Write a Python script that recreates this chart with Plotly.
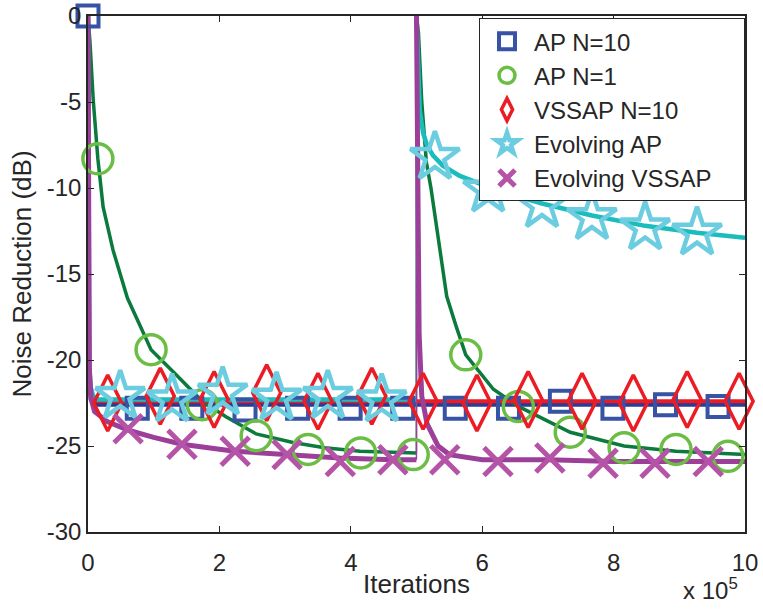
import plotly.graph_objects as go

# ---------------- data (x in units of 1e5 iterations, y in dB) ----------------
ap10_line_x = [0, 0.004, 0.01, 0.02, 0.04, 0.08, 0.15, 1, 2, 3, 4, 5, 6, 7, 8, 9, 10]
ap10_line_y = [0, -14, -19.5, -21.5, -22.3, -22.5, -22.6, -22.6, -22.6, -22.6, -22.6,
               -22.6, -22.6, -22.6, -22.6, -22.6, -22.6]

# AP N=1: before / after the change at 5e5
ap1_a_x = [0, 0.03, 0.08, 0.15, 0.23, 0.38, 0.6, 0.96, 1.3, 1.74, 2.1, 2.56, 3.12, 3.6,
           4.14, 4.999]
ap1_a_y = [0, -1.5, -4.9, -8.3, -11.1, -13.6, -16.4, -19.4, -20.7, -22.4, -23.3, -24.3,
           -24.8, -25.1, -25.3, -25.4]
ap1_b_x = [5.0, 5.03, 5.08, 5.15, 5.22, 5.35, 5.46, 5.6, 5.75, 6.17, 6.55, 7.34, 8.16,
           8.95, 10]
ap1_b_y = [0, -1.0, -5.0, -8.5, -10.0, -13.5, -16.3, -18.0, -19.7, -21.7, -22.7, -24.2,
           -25.0, -25.3, -25.5]

vss_line_x = [0, 0.004, 0.01, 0.02, 0.04, 0.08, 0.15, 1, 2, 3, 4, 5, 6, 7, 8, 9, 10]
vss_line_y = [0, -15, -19.5, -21.3, -22.0, -22.3, -22.4, -22.4, -22.4, -22.4, -22.4,
              -22.4, -22.4, -22.4, -22.4, -22.4, -22.4]

eap_a_x = [0, 0.004, 0.01, 0.02, 0.04, 0.08, 0.15, 1, 2, 3, 4, 4.999]
eap_a_y = [0, -13, -18, -20.5, -21.6, -22.1, -22.3, -22.3, -22.3, -22.3, -22.3, -22.3]
eap_b_x = [5.0, 5.02, 5.05, 5.1, 5.16, 5.25, 5.4, 5.66, 6.0, 6.27, 6.91, 7.67, 8.48,
           9.27, 10]
eap_b_y = [0, -2.0, -5.5, -6.8, -7.5, -8.1, -8.7, -9.3, -9.8, -10.2, -10.9, -11.6,
           -12.2, -12.6, -12.9]

evss_a_x = [0, 0.005, 0.02, 0.05, 0.1, 0.3, 0.63, 1.0, 1.43, 2.23, 3.03, 3.83, 4.63,
            4.999]
evss_a_y = [0, -15, -20.5, -22.3, -23.0, -23.6, -24.1, -24.5, -24.9, -25.3, -25.5,
            -25.7, -25.8, -25.8]
evss_b_x = [5.0, 5.02, 5.04, 5.08, 5.16, 5.33, 5.5, 6.0, 7.0, 8.0, 9.0, 10]
evss_b_y = [0, -15, -18.5, -22.1, -23.7, -25.0, -25.5, -25.8, -25.8, -25.9, -25.9, -25.9]

ap10_mk_x = [0, 0.75, 1.58, 2.39, 3.19, 3.99, 4.79, 5.59, 6.40, 7.19, 7.99, 8.79, 9.59]
ap10_mk_y = [0, -22.8, -22.8, -22.9, -22.8, -22.8, -22.8, -22.8, -22.8, -22.4, -22.8,
             -22.6, -22.7]

ap1_mk_x = [0.15, 0.96, 1.74, 2.56, 3.35, 4.15, 4.95, 5.75, 6.55, 7.34, 8.16, 8.95, 9.74]
ap1_mk_y = [-8.3, -19.4, -22.6, -24.4, -25.2, -25.4, -25.5, -19.7, -22.7, -24.2, -25.1,
            -25.2, -25.6]

vss_mk_x = [0.30, 1.10, 1.92, 2.72, 3.50, 4.32, 5.10, 5.92, 6.70, 7.52, 8.30, 9.12, 9.91]
vss_mk_y = [-22.5, -22.1, -22.3, -21.9, -22.4, -22.1, -22.4, -22.5, -22.3, -22.4, -22.5,
            -22.3, -22.4]

eap_mk_x = [0.49, 1.28, 2.05, 2.87, 3.65, 4.47, 5.28, 6.09, 6.91, 7.67, 8.48, 9.27]
eap_mk_y = [-22.1, -22.3, -21.9, -22.2, -22.1, -22.3, -8.2, -10.1, -11.0, -11.7, -12.3,
            -12.6]

evss_mk_x = [0.61, 1.43, 2.24, 3.03, 3.84, 4.64, 5.43, 6.24, 7.03, 7.84, 8.63, 9.44]
evss_mk_y = [-24.0, -24.9, -25.3, -25.5, -25.9, -25.8, -25.8, -25.9, -25.7, -26.0, -26.0,
             -25.9]

names = ["AP N=10", "AP N=1", "VSSAP N=10", "Evolving AP", "Evolving VSSAP"]
x_ticks = [0, 2, 4, 6, 8, 10]
y_ticks = [0, -5, -10, -15, -20, -25, -30]

# ---------------- styles ----------------
line_colors = ["#2b3a96", "#0b7a3d", "#ec1c24", "#1bbcbc", "#9c3f98"]
mk_colors = ["#3852a4", "#6cbd45", "#ec1c24", "#6dcde0", "#b553a6"]
symbols = ["square-open", "circle-open", "diamond-tall-open", "star-open", "x-thin-open"]
mk_sizes = [21, 30, 40, 37, 28]
mk_lw = [4, 3.5, 3.5, 4.5, 5]
line_w = [4, 3.5, 4, 4.5, 5]
legend_pad = "\u00a0" * 4   # right padding inside the legend box

# each series: list of branches (drawn thick) – jumps between branches drawn thin
series_lines = [
    [(ap10_line_x, ap10_line_y)],
    [(ap1_a_x, ap1_a_y), (ap1_b_x, ap1_b_y)],
    [(vss_line_x, vss_line_y)],
    [(eap_a_x, eap_a_y), (eap_b_x, eap_b_y)],
    [(evss_a_x, evss_a_y), (evss_b_x, evss_b_y)],
]
marks = [(ap10_mk_x, ap10_mk_y), (ap1_mk_x, ap1_mk_y), (vss_mk_x, vss_mk_y),
         (eap_mk_x, eap_mk_y), (evss_mk_x, evss_mk_y)]

fig = go.Figure()
for i, branches in enumerate(series_lines):
    for j, (lx, ly) in enumerate(branches):
        fig.add_trace(go.Scatter(x=lx, y=ly, mode="lines", showlegend=False,
                                 hoverinfo="skip",
                                 line=dict(color=line_colors[i], width=line_w[i])))
        if j > 0:
            px, py = branches[j - 1]
            fig.add_trace(go.Scatter(x=[px[-1], lx[0]], y=[py[-1], ly[0]], mode="lines",
                                     showlegend=False, hoverinfo="skip",
                                     line=dict(color=line_colors[i], width=1.5)))
for i, (mx, my) in enumerate(marks):
    fig.add_trace(go.Scatter(x=mx, y=my, mode="markers", name=names[i] + legend_pad,
                             cliponaxis=False,
                             marker=dict(symbol=symbols[i], size=mk_sizes[i],
                                         color=mk_colors[i],
                                         line=dict(color=mk_colors[i], width=mk_lw[i]))))

font = "Liberation Sans, Arial, Helvetica, sans-serif"
axis_common = dict(showgrid=False, zeroline=False, showline=True, linecolor="#262626",
                   linewidth=1.5, mirror="ticks", ticks="inside", ticklen=6,
                   tickcolor="#262626", tickwidth=1, automargin=False,
                   tickfont=dict(family=font, size=24, color="#262626"))

fig.update_layout(
    width=763, height=610,
    margin=dict(l=88, r=18, t=16, b=78),
    paper_bgcolor="white", plot_bgcolor="white",
    font=dict(family=font, color="#262626"),
    xaxis=dict(range=[0, 10], tickvals=x_ticks, ticktext=[str(v) for v in x_ticks],
               ticklabelstandoff=8,
               title=dict(text="Iterations", font=dict(size=26), standoff=0),
               **axis_common),
    yaxis=dict(range=[-30, 0], tickvals=y_ticks, ticktext=[str(v) for v in y_ticks],
               title=dict(text="Noise Reduction (dB)", font=dict(size=26), standoff=8),
               **axis_common),
    legend=dict(x=1, y=0.996, xanchor="right", yanchor="top", bgcolor="white",
                bordercolor="#262626", borderwidth=1, itemwidth=44,
                font=dict(family=font, size=24, color="#262626")),
    annotations=[dict(xref="paper", yref="paper", x=0.993, y=-0.11, xanchor="right",
                      yanchor="middle", showarrow=False,
                      text="x 10<sup>5</sup>",
                      font=dict(family=font, size=24, color="#262626"))],
)

fig.write_html("out.html", config={"displayModeBar": False},
               post_script="document.body.style.margin='0px';")
